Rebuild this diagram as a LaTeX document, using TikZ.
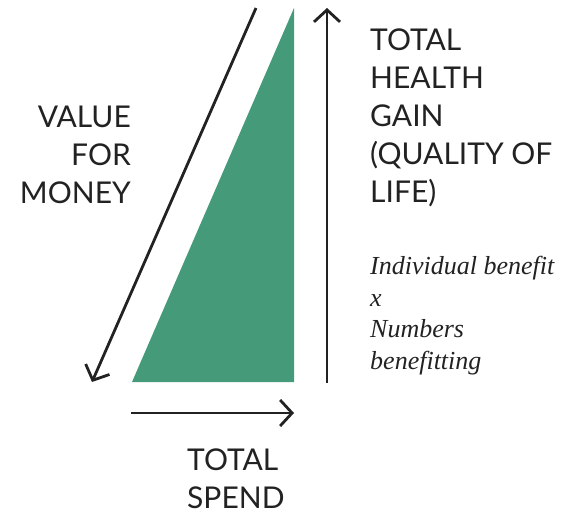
\documentclass[tikz,border=0pt]{standalone}
\usepackage{fontspec}
\setmainfont{Lato}
\newfontfamily\notefont{Liberation Serif}
\usetikzlibrary{arrows.meta}
\definecolor{gaingreen}{HTML}{459B79}
\definecolor{ink}{HTML}{222222}

\begin{document}
\begin{tikzpicture}[x=1pt,y=-1pt,
    axis/.style={draw=ink, line width=2.8pt,
      -{Straight Barb[length=12pt,width=26pt,line width=2.8pt]}},
    caps/.style={font=\fontsize{30}{38}\selectfont, text=ink, inner sep=0pt},
    note/.style={font=\notefont\itshape\fontsize{26}{31.5}\selectfont,
      text=ink, inner sep=0pt, align=left}]
    \useasboundingbox (0,0) rectangle (567,510);

    % corners of the spend / gain triangle
    \coordinate (base-left) at (132,382);
    \coordinate (base-right) at (294,382);
    \coordinate (apex) at (294,8);
    \fill[gaingreen] (base-left) -- (base-right) -- (apex) -- cycle;

    % the three arrows
    \coordinate (vfm-start) at (256,8);
    \coordinate (vfm-end) at (92,382);
    \coordinate (gain-start) at (327,383);
    \coordinate (gain-end) at (327,8);
    \coordinate (spend-start) at (131,413);
    \coordinate (spend-end) at (294,413);
    \draw[axis] (vfm-start) -- (vfm-end);
    \draw[axis] (gain-start) -- (gain-end);
    \draw[axis] (spend-start) -- (spend-end);

    % labels (base anchor sits on the last line)
    \node[caps, align=right, anchor=base east] (vfm) at (131,204)
        {VALUE\\FOR\\MONEY};
    \node[caps, align=left, anchor=base west] (gain) at (370,203)
        {TOTAL\\HEALTH\\GAIN\\(QUALITY OF\\LIFE)};
    \node[caps, align=left, anchor=base west] (spend) at (187,508)
        {TOTAL\\SPEND};
    \node[note, anchor=base west] (formula) at (370,369)
        {Individual benefit\\x\\Numbers\\benefitting};
\end{tikzpicture}
\end{document}
